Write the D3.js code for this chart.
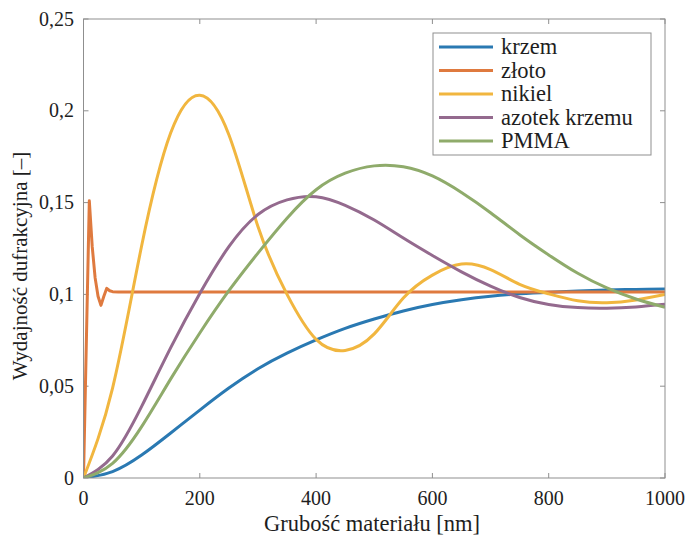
<!DOCTYPE html>
<html>
<head>
<meta charset="utf-8">
<script src="https://cdn.jsdelivr.net/npm/d3@7"></script>
<style>
  html, body { margin: 0; padding: 0; background: #fff; }
</style>
</head>
<body>
<svg id="chart" width="689" height="538"></svg>
<script>
// thickness grid (nm) shared by the smooth series
const grid = [0, 50, 100, 150, 200, 250, 300, 350, 400, 450, 500,
              550, 600, 650, 700, 750, 800, 850, 900, 950, 1000];

const krzem  = [0, 0.0035, 0.0125, 0.0245, 0.037, 0.049, 0.0595, 0.068, 0.0752, 0.0815, 0.0866,
                0.091, 0.0945, 0.0971, 0.099, 0.1003, 0.1012, 0.1019, 0.1024, 0.1027, 0.103];
const nikiel = [0, 0.049, 0.1265, 0.188, 0.2085, 0.187, 0.137, 0.1, 0.0755, 0.0695, 0.0785,
                0.098, 0.1105, 0.1165, 0.1135, 0.1055, 0.1003, 0.0965, 0.0955, 0.097, 0.1];
const azotek = [0, 0.012, 0.039, 0.071, 0.1005, 0.126, 0.1435, 0.1515, 0.1532, 0.1485, 0.1405,
                0.1307, 0.1212, 0.1123, 0.1045, 0.0983, 0.0945, 0.0928, 0.0925, 0.0932, 0.0946];
const pmma   = [0, 0.008, 0.028, 0.054, 0.079, 0.102, 0.1225, 0.1415, 0.157, 0.166, 0.170,
                0.1695, 0.1645, 0.1555, 0.1445, 0.1325, 0.1215, 0.1115, 0.1035, 0.0975, 0.093];

// gold oscillates only in the first tens of nm
const zlotoX = [0, 10, 15, 20, 25, 30, 35, 40, 45, 50, 60, 1000];
const zloto  = [0, 0.151, 0.126, 0.109, 0.099, 0.094, 0.099, 0.1033, 0.102, 0.1015, 0.1013, 0.1013];

const xTicks = [0, 200, 400, 600, 800, 1000];
const yTicks = [0, 0.05, 0.1, 0.15, 0.2, 0.25];

const series = [
  { name: "krzem",          color: "#2a79b2", xs: grid,   ys: krzem,  smooth: true },
  { name: "złoto",          color: "#df7a3f", xs: zlotoX, ys: zloto,  smooth: false },
  { name: "nikiel",         color: "#f1b63f", xs: grid,   ys: nikiel, smooth: true },
  { name: "azotek krzemu",  color: "#946a8e", xs: grid,   ys: azotek, smooth: true },
  { name: "PMMA",           color: "#8fab6b", xs: grid,   ys: pmma,   smooth: true },
];

const FONT = "'Liberation Serif', 'DejaVu Serif', 'Noto Serif', 'Times New Roman', serif";

const svg = d3.select("#chart");
const L = 83.5, R = 665, T = 19, B = 478;

const x = d3.scaleLinear().domain([0, 1000]).range([L, R]);
const y = d3.scaleLinear().domain([0, 0.25]).range([B, T]);
const fmt = (v) => String(+v.toFixed(2)).replace(".", ",");

const frame = "#8f8f8f";

// ticks (inward, mirrored on top and right)
const axes = svg.append("g").attr("stroke", frame).attr("stroke-width", 1);
xTicks.forEach((t) => {
  axes.append("line").attr("x1", x(t)).attr("x2", x(t)).attr("y1", B).attr("y2", B - 5);
  axes.append("line").attr("x1", x(t)).attr("x2", x(t)).attr("y1", T).attr("y2", T + 5);
});
yTicks.forEach((t) => {
  axes.append("line").attr("x1", L).attr("x2", L + 5).attr("y1", y(t)).attr("y2", y(t));
  axes.append("line").attr("x1", R).attr("x2", R - 5).attr("y1", y(t)).attr("y2", y(t));
});

// curves
svg.append("clipPath").attr("id", "clip")
  .append("rect").attr("x", L).attr("y", T).attr("width", R - L).attr("height", B - T);

const plot = svg.append("g").attr("clip-path", "url(#clip)");
series.forEach((s) => {
  const pts = s.xs.map((v, i) => [v, s.ys[i]]);
  const line = d3.line()
    .x((d) => x(d[0])).y((d) => y(d[1]))
    .curve(s.smooth ? d3.curveNatural : d3.curveLinear);
  plot.append("path").datum(pts)
    .attr("d", line)
    .attr("fill", "none")
    .attr("stroke", s.color)
    .attr("stroke-width", 3)
    .attr("stroke-linejoin", "round");
});

// frame
svg.append("rect").attr("x", L).attr("y", T).attr("width", R - L).attr("height", B - T)
  .attr("fill", "none").attr("stroke", frame).attr("stroke-width", 1);

const txt = (sel, size) => sel.attr("font-family", FONT).attr("font-size", size).attr("fill", "#1e1e1e");

// tick labels
svg.append("g").selectAll("text").data(xTicks).join("text")
  .call(txt, 20)
  .attr("x", (d) => x(d)).attr("y", 505)
  .attr("text-anchor", "middle")
  .text((d) => d);

svg.append("g").selectAll("text").data(yTicks).join("text")
  .call(txt, 20)
  .attr("x", 74).attr("y", (d) => y(d) + 6.5)
  .attr("text-anchor", "end")
  .text((d) => fmt(d));

// axis titles
svg.append("text").call(txt, 22.5)
  .attr("x", 372).attr("y", 531)
  .attr("text-anchor", "middle")
  .text("Grubość materiału [nm]");

svg.append("text").call(txt, 21)
  .attr("transform", "translate(27,266) rotate(-90)")
  .attr("text-anchor", "middle")
  .text("Wydajność dufrakcyjna [–]");

// legend
const lg = svg.append("g");
lg.append("rect").attr("x", 433).attr("y", 33).attr("width", 218).attr("height", 122)
  .attr("fill", "#fff").attr("stroke", frame).attr("stroke-width", 1);
series.forEach((s, i) => {
  const cy = 47 + i * 23.5;
  lg.append("line").attr("x1", 439).attr("x2", 493).attr("y1", cy).attr("y2", cy)
    .attr("stroke", s.color).attr("stroke-width", 3);
  lg.append("text").call(txt, 22.5).attr("x", 501).attr("y", cy + 7).text(s.name);
});
</script>
</body>
</html>
